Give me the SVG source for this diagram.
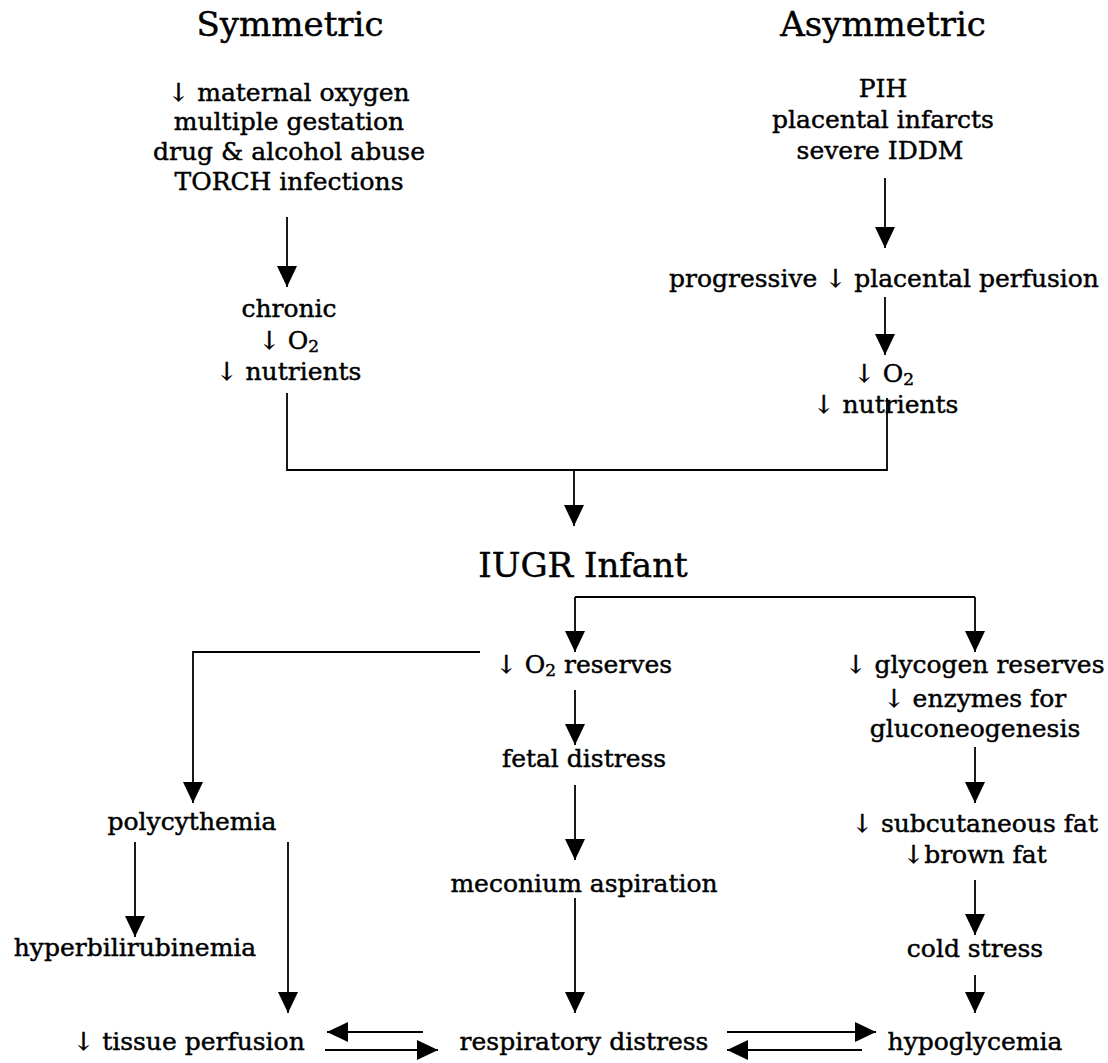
<svg xmlns="http://www.w3.org/2000/svg" width="1108" height="1063" viewBox="0 0 1108 1063">
  <style>
    text { font-family: "DejaVu Serif", "Liberation Serif", serif; fill: #000; stroke: #000; stroke-width: 0.45; text-anchor: middle; }
    .t { font-size: 34px; }
    .b { font-size: 25px; }
    .sub { font-size: 17px; }
    .c { fill: none; stroke: #000; stroke-width: 1.8; }
    .a { fill: none; stroke: #000; stroke-width: 1.8; marker-end: url(#head); }
  </style>
  <defs>
    <marker id="head" markerUnits="userSpaceOnUse" markerWidth="22" markerHeight="20" refX="21" refY="10" orient="auto">
      <path d="M0,0 L21,10 L0,20 Z" fill="#000"/>
    </marker>
  </defs>
  <rect width="1108" height="1063" fill="#fff"/>

  <!-- headings -->
  <g id="symmetric"><text class="t" x="290" y="36">Symmetric</text></g>
  <g id="asymmetric"><text class="t" x="883" y="36">Asymmetric</text></g>

  <!-- symmetric causes -->
  <g id="sym-causes">
    <text class="b" x="289" y="101">↓ maternal oxygen</text>
    <text class="b" x="289" y="130">multiple gestation</text>
    <text class="b" x="289" y="160">drug &amp; alcohol abuse</text>
    <text class="b" x="289" y="190">TORCH infections</text>
  </g>
  <g id="sym-effect">
    <text class="b" x="289" y="317">chronic</text>
    <text class="b" x="289" y="349">↓ O<tspan class="sub" dy="3">2</tspan></text>
    <text class="b" x="289" y="380">↓ nutrients</text>
  </g>

  <!-- asymmetric causes -->
  <g id="asym-causes">
    <text class="b" x="883" y="97">PIH</text>
    <text class="b" x="883" y="128">placental infarcts</text>
    <text class="b" x="880" y="159">severe IDDM</text>
  </g>
  <g id="perfusion"><text class="b" x="884" y="287">progressive ↓ placental perfusion</text></g>
  <g id="asym-effect">
    <text class="b" x="884" y="382">↓ O<tspan class="sub" dy="3">2</tspan></text>
    <text class="b" x="886" y="413">↓ nutrients</text>
  </g>

  <!-- infant -->
  <g id="iugr"><text class="t" x="583" y="577">IUGR Infant</text></g>

  <!-- oxygen branch -->
  <g id="o2-reserves"><text class="b" x="584" y="673">↓ O<tspan class="sub" dy="3">2</tspan><tspan dy="-3"> reserves</tspan></text></g>
  <g id="fetal-distress"><text class="b" x="584" y="767">fetal distress</text></g>
  <g id="meconium"><text class="b" x="584" y="892">meconium aspiration</text></g>
  <g id="resp-distress"><text class="b" x="584" y="1050">respiratory distress</text></g>

  <!-- blood branch -->
  <g id="polycythemia"><text class="b" x="192" y="830">polycythemia</text></g>
  <g id="hyperbilirubinemia"><text class="b" x="135" y="956">hyperbilirubinemia</text></g>
  <g id="tissue-perfusion"><text class="b" x="189" y="1050">↓ tissue perfusion</text></g>

  <!-- glucose branch -->
  <g id="glycogen">
    <text class="b" x="975" y="673">↓ glycogen reserves</text>
    <text class="b" x="975" y="707">↓ enzymes for</text>
    <text class="b" x="975" y="737">gluconeogenesis</text>
  </g>
  <g id="fat">
    <text class="b" x="975" y="832">↓ subcutaneous fat</text>
    <text class="b" x="975" y="863">↓brown fat</text>
  </g>
  <g id="cold-stress"><text class="b" x="975" y="957">cold stress</text></g>
  <g id="hypoglycemia"><text class="b" x="975" y="1050">hypoglycemia</text></g>

  <!-- connectors -->
  <g id="connectors">
    <path class="a" d="M287,217 V287"/>
    <path class="a" d="M885,178 V248"/>
    <path class="a" d="M885,297 V355"/>
    <path class="c" d="M287,393 V470 H887 V398"/>
    <path class="a" d="M574,470 V526"/>
    <path class="c" d="M575,597 H975"/>
    <path class="a" d="M575,597 V652"/>
    <path class="a" d="M975,597 V652"/>
    <path class="a" d="M480,652 H193 V803"/>
    <path class="a" d="M575,690 V745"/>
    <path class="a" d="M575,785 V860"/>
    <path class="a" d="M575,898 V1013"/>
    <path class="a" d="M135,842 V937"/>
    <path class="a" d="M288,842 V1013"/>
    <path class="a" d="M975,747 V803"/>
    <path class="a" d="M975,880 V935"/>
    <path class="a" d="M975,975 V1013"/>
    <path class="a" d="M423,1032 H327"/>
    <path class="a" d="M325,1050 H438"/>
    <path class="a" d="M727,1032 H876"/>
    <path class="a" d="M862,1050 H727"/>
  </g>
</svg>
